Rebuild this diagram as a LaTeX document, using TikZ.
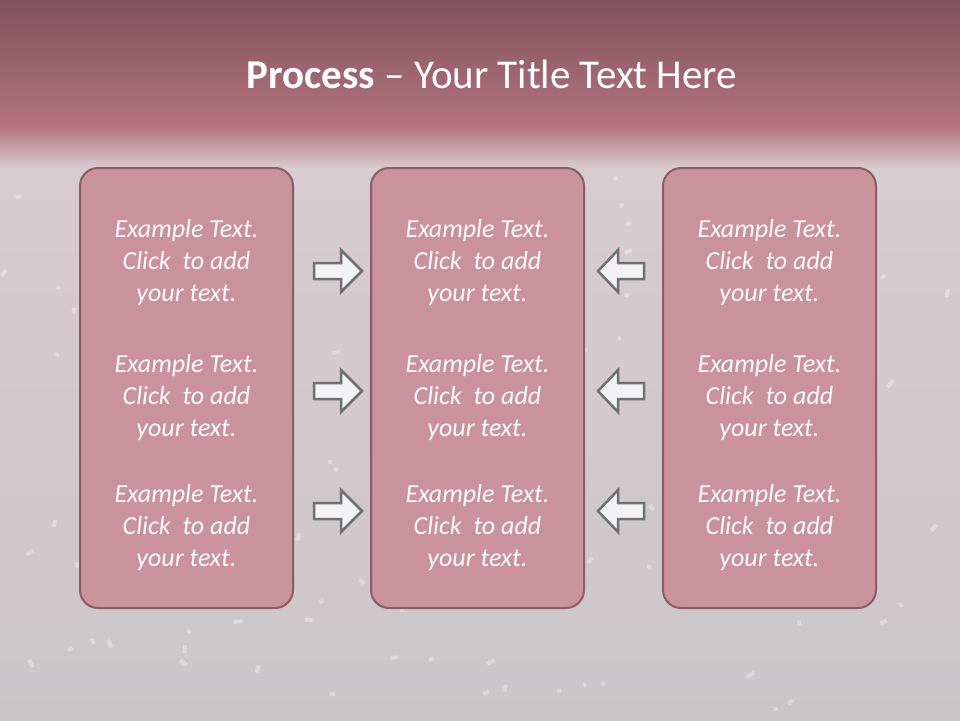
\documentclass[tikz,border=0pt]{standalone}
\usepackage{fontspec}
\setmainfont{Carlito}
\usetikzlibrary{shapes.geometric}
\definecolor{hdrtop}{RGB}{128,82,94}
\definecolor{hdrbot}{RGB}{180,116,126}
\definecolor{bgtop}{RGB}{216,204,208}
\definecolor{bgbot}{RGB}{202,198,200}
\definecolor{boxfill}{RGB}{201,146,156}
\definecolor{boxline}{RGB}{140,92,102}
\definecolor{txtcol}{RGB}{252,250,251}
\definecolor{arrfill}{RGB}{242,242,244}
\definecolor{arrline}{RGB}{112,112,112}
\tikzset{
  stagebox/.style={draw=boxline, line width=2pt, fill=boxfill, rounded corners=18pt,
    minimum width=213pt, minimum height=440pt, inner sep=0pt},
  bodytext/.style={align=center, font=\itshape\fontsize{26}{32}\selectfont, text=txtcol, inner sep=0pt},
  arrowshape/.style={draw=arrline, line width=2.5pt, fill=arrfill, line join=miter},
  confetti/.style={fill=white, opacity=0.35, draw=none}
}
\newcommand{\ex}{Example Text.\\Click~ to add\\your text.}
\begin{document}
\begin{tikzpicture}[x=1pt,y=-1pt]
\useasboundingbox (0,0) rectangle (960,720);
% background
\shade[top color=bgtop, bottom color=bgbot] (0,150) rectangle (960,720);
\shade[top color=hdrtop, bottom color=hdrbot] (0,0) rectangle (960,128);
\shade[top color=hdrbot, bottom color=bgtop] (0,127.5) rectangle (960,168);
% confetti
\pgfmathsetseed{7}
\foreach \i in {1,...,110}{
  \pgfmathsetmacro{\cx}{rnd*960}
  \pgfmathsetmacro{\cy}{170+rnd*540}
  \pgfmathsetmacro{\ang}{rnd*180}
  \pgfmathsetmacro{\w}{3+rnd*6}
  \fill[confetti, rotate around={\ang:(\cx,\cy)}] (\cx-\w/2,\cy-2) rectangle (\cx+\w/2,\cy+2);
}
% title
\node[anchor=base, text=white, font=\fontsize{41}{48}\selectfont, inner sep=0pt] (title) at (492,88)
  {\textbf{Process} -- Your Title Text Here};
% boxes
\node[stagebox] (L) at (186.5,388) {};
\node[stagebox] (M) at (477.5,388) {};
\node[stagebox] (R) at (769.5,388) {};
% texts
\foreach \bx/\x in {L/186.5, M/477.5, R/769.5}{
  \foreach \r/\y in {1/263, 2/398, 3/528}{
    \node[bodytext] (\bx t\r) at (\x,\y) {\ex};
  }
}
% arrows
\foreach \cy in {271,391,511}{
  \draw[arrowshape] (314,\cy-8) -- (341,\cy-8) -- (341,\cy-21) -- (362,\cy) -- (341,\cy+21) -- (341,\cy+8) -- (314,\cy+8) -- cycle;
  \draw[arrowshape] (644,\cy-8) -- (618,\cy-8) -- (618,\cy-21) -- (598,\cy) -- (618,\cy+21) -- (618,\cy+8) -- (644,\cy+8) -- cycle;
}
\end{tikzpicture}
\end{document}
